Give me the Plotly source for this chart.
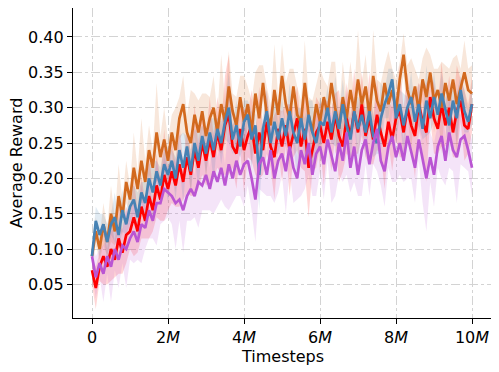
import plotly.graph_objects as go

# x positions in millions of timesteps (one sample every 0.1M)
steps_m = [round(i * 0.1, 1) for i in range(101)]

orange_mean = [0.09, 0.125, 0.10, 0.135, 0.11, 0.15, 0.125, 0.175, 0.145, 0.195, 0.17,
               0.215, 0.185, 0.225, 0.195, 0.24, 0.215, 0.265, 0.23, 0.255, 0.225,
               0.265, 0.24, 0.285, 0.305, 0.265, 0.25, 0.29, 0.265, 0.295, 0.26,
               0.285, 0.30, 0.265, 0.305, 0.28, 0.33, 0.295, 0.275, 0.315, 0.28,
               0.305, 0.265, 0.32, 0.285, 0.335, 0.29, 0.275, 0.325, 0.29, 0.345,
               0.305, 0.285, 0.33, 0.29, 0.28, 0.335, 0.29, 0.265, 0.305, 0.28,
               0.315, 0.29, 0.335, 0.30, 0.27, 0.315, 0.285, 0.325, 0.295, 0.34,
               0.305, 0.33, 0.29, 0.345, 0.31, 0.295, 0.335, 0.305, 0.325, 0.295,
               0.34, 0.375, 0.325, 0.305, 0.33, 0.295, 0.34, 0.315, 0.35, 0.31,
               0.325, 0.30, 0.335, 0.31, 0.34, 0.305, 0.33, 0.35, 0.325, 0.32]

blue_mean = [0.09, 0.14, 0.12, 0.135, 0.11, 0.135, 0.145, 0.12, 0.155, 0.135, 0.16,
             0.17, 0.145, 0.18, 0.165, 0.20, 0.18, 0.21, 0.19, 0.22, 0.205,
             0.225, 0.20, 0.24, 0.215, 0.245, 0.21, 0.25, 0.225, 0.26, 0.235,
             0.265, 0.24, 0.27, 0.25, 0.28, 0.30, 0.255, 0.275, 0.245, 0.28,
             0.29, 0.255, 0.275, 0.205, 0.27, 0.295, 0.25, 0.28, 0.255, 0.285,
             0.26, 0.295, 0.265, 0.25, 0.285, 0.255, 0.29, 0.265, 0.25, 0.28,
             0.275, 0.30, 0.265, 0.295, 0.27, 0.305, 0.275, 0.255, 0.295, 0.27,
             0.29, 0.265, 0.295, 0.26, 0.25, 0.285, 0.305, 0.32, 0.34, 0.285,
             0.305, 0.275, 0.30, 0.315, 0.28, 0.305, 0.27, 0.31, 0.285, 0.315,
             0.29, 0.32, 0.295, 0.275, 0.31, 0.285, 0.325, 0.295, 0.28, 0.305]

red_mean = [0.07, 0.045, 0.075, 0.09, 0.075, 0.10, 0.085, 0.115, 0.095, 0.12, 0.125,
            0.145, 0.125, 0.16, 0.14, 0.175, 0.155, 0.19, 0.17, 0.205, 0.185,
            0.21, 0.19, 0.22, 0.195, 0.23, 0.205, 0.24, 0.215, 0.25, 0.225,
            0.255, 0.23, 0.265, 0.24, 0.275, 0.29, 0.245, 0.235, 0.27, 0.24,
            0.26, 0.275, 0.235, 0.265, 0.24, 0.28, 0.245, 0.23, 0.27, 0.245,
            0.275, 0.24, 0.265, 0.285, 0.245, 0.27, 0.215, 0.24, 0.265, 0.275,
            0.25, 0.28, 0.255, 0.29, 0.26, 0.245, 0.285, 0.26, 0.295, 0.265,
            0.305, 0.26, 0.285, 0.255, 0.29, 0.265, 0.245, 0.28, 0.255, 0.285,
            0.295, 0.265, 0.30, 0.275, 0.26, 0.305, 0.28, 0.265, 0.315, 0.285,
            0.27, 0.305, 0.275, 0.30, 0.265, 0.295, 0.31, 0.275, 0.27, 0.305]

purple_mean = [0.09, 0.06, 0.08, 0.065, 0.09, 0.075, 0.10, 0.085, 0.105, 0.10, 0.115,
               0.125, 0.11, 0.135, 0.13, 0.155, 0.14, 0.165, 0.165, 0.185, 0.18,
               0.175, 0.165, 0.17, 0.155, 0.175, 0.185, 0.175, 0.195, 0.19, 0.205,
               0.185, 0.21, 0.195, 0.215, 0.19, 0.22, 0.20, 0.225, 0.205, 0.22,
               0.225, 0.20, 0.17, 0.22, 0.23, 0.205, 0.24, 0.20, 0.225, 0.235,
               0.21, 0.245, 0.215, 0.20, 0.24, 0.22, 0.25, 0.205, 0.235, 0.245,
               0.22, 0.255, 0.23, 0.21, 0.25, 0.225, 0.265, 0.215, 0.245, 0.205,
               0.24, 0.255, 0.22, 0.25, 0.27, 0.225, 0.21, 0.245, 0.26, 0.23,
               0.25, 0.225, 0.26, 0.235, 0.215, 0.255, 0.23, 0.20, 0.23, 0.205,
               0.245, 0.26, 0.225, 0.265, 0.24, 0.23, 0.255, 0.26, 0.24, 0.215]

orange_sd = [0.01, 0.02, 0.015, 0.03, 0.02, 0.04, 0.02, 0.045, 0.025, 0.03, 0.02,
             0.05, 0.025, 0.06, 0.03, 0.035, 0.025, 0.07, 0.03, 0.045, 0.03,
             0.025, 0.06, 0.03, 0.04, 0.025, 0.075, 0.03, 0.045, 0.025, 0.06,
             0.03, 0.045, 0.025, 0.07, 0.03, 0.05, 0.025, 0.04, 0.03, 0.065,
             0.025, 0.045, 0.03, 0.075, 0.025, 0.04, 0.03, 0.065, 0.025, 0.045,
             0.03, 0.07, 0.025, 0.04, 0.03, 0.06, 0.025, 0.045, 0.03, 0.075,
             0.025, 0.04, 0.03, 0.065, 0.025, 0.05, 0.03, 0.04, 0.025, 0.07,
             0.03, 0.045, 0.025, 0.065, 0.03, 0.04, 0.025, 0.075, 0.03, 0.045,
             0.025, 0.03, 0.035, 0.065, 0.025, 0.045, 0.03, 0.07, 0.025, 0.045,
             0.03, 0.065, 0.025, 0.045, 0.03, 0.07, 0.025, 0.045, 0.03, 0.04]

blue_sd = [0.01, 0.02, 0.03, 0.015, 0.025, 0.015, 0.035, 0.02, 0.03, 0.015, 0.025,
           0.02, 0.035, 0.015, 0.03, 0.02, 0.045, 0.015, 0.025, 0.02, 0.04,
           0.015, 0.03, 0.02, 0.05, 0.015, 0.03, 0.02, 0.04, 0.015, 0.03,
           0.02, 0.045, 0.015, 0.03, 0.025, 0.05, 0.02, 0.035, 0.015, 0.03,
           0.02, 0.04, 0.015, 0.05, 0.02, 0.03, 0.015, 0.045, 0.02, 0.03,
           0.015, 0.04, 0.02, 0.05, 0.015, 0.03, 0.02, 0.045, 0.015, 0.035,
           0.02, 0.03, 0.015, 0.05, 0.02, 0.035, 0.015, 0.03, 0.02, 0.045,
           0.015, 0.035, 0.02, 0.03, 0.015, 0.05, 0.02, 0.035, 0.015, 0.03,
           0.02, 0.045, 0.015, 0.035, 0.02, 0.03, 0.015, 0.05, 0.02, 0.035,
           0.015, 0.03, 0.02, 0.045, 0.015, 0.035, 0.02, 0.03, 0.015, 0.03]

red_sd = [0.02, 0.03, 0.02, 0.04, 0.025, 0.045, 0.025, 0.05, 0.03, 0.04, 0.025,
          0.055, 0.03, 0.045, 0.025, 0.06, 0.03, 0.045, 0.03, 0.065, 0.03,
          0.045, 0.03, 0.06, 0.025, 0.05, 0.03, 0.065, 0.03, 0.045, 0.035,
          0.06, 0.03, 0.05, 0.035, 0.07, 0.085, 0.03, 0.05, 0.03, 0.06,
          0.03, 0.05, 0.03, 0.065, 0.035, 0.045, 0.03, 0.06, 0.03, 0.05,
          0.03, 0.065, 0.035, 0.045, 0.03, 0.06, 0.07, 0.03, 0.05, 0.03,
          0.06, 0.03, 0.045, 0.03, 0.065, 0.035, 0.05, 0.03, 0.06, 0.03,
          0.045, 0.03, 0.065, 0.035, 0.05, 0.03, 0.06, 0.03, 0.045, 0.03,
          0.065, 0.035, 0.05, 0.03, 0.06, 0.03, 0.045, 0.07, 0.03, 0.05,
          0.035, 0.06, 0.03, 0.045, 0.035, 0.065, 0.03, 0.05, 0.035, 0.04]

purple_sd = [0.02, 0.03, 0.02, 0.04, 0.025, 0.05, 0.03, 0.04, 0.025, 0.055, 0.03,
             0.045, 0.025, 0.055, 0.03, 0.04, 0.025, 0.06, 0.03, 0.045, 0.035,
             0.04, 0.065, 0.03, 0.06, 0.035, 0.045, 0.03, 0.065, 0.035, 0.05,
             0.03, 0.06, 0.035, 0.045, 0.03, 0.065, 0.035, 0.05, 0.03, 0.06,
             0.035, 0.045, 0.06, 0.035, 0.05, 0.03, 0.065, 0.035, 0.045, 0.03,
             0.06, 0.035, 0.05, 0.03, 0.065, 0.035, 0.045, 0.03, 0.06, 0.035,
             0.05, 0.03, 0.065, 0.035, 0.045, 0.03, 0.06, 0.035, 0.05, 0.03,
             0.065, 0.035, 0.045, 0.03, 0.06, 0.035, 0.05, 0.03, 0.065, 0.035,
             0.045, 0.03, 0.06, 0.035, 0.05, 0.03, 0.065, 0.075, 0.035, 0.045,
             0.03, 0.06, 0.035, 0.05, 0.03, 0.065, 0.035, 0.045, 0.03, 0.04]

x_tick_vals = [0, 2, 4, 6, 8, 10]
x_tick_text = ["0", "2<i>M</i>", "4<i>M</i>", "6<i>M</i>", "8<i>M</i>", "10<i>M</i>"]
y_tick_vals = [0.05, 0.10, 0.15, 0.20, 0.25, 0.30, 0.35, 0.40]
y_tick_text = ["0.05", "0.10", "0.15", "0.20", "0.25", "0.30", "0.35", "0.40"]
x_label = "Timesteps"
y_label = "Average Reward"

series = [
    ("red", red_mean, red_sd, "rgb(255,0,0)", "rgba(255,0,0,0.16)"),
    ("orange", orange_mean, orange_sd, "rgb(210,105,30)", "rgba(210,105,30,0.16)"),
    ("blue", blue_mean, blue_sd, "rgb(70,130,180)", "rgba(70,130,180,0.16)"),
    ("purple", purple_mean, purple_sd, "rgb(186,85,211)", "rgba(186,85,211,0.16)"),
]
for nm, mean, sd, _, _ in series:
    assert len(mean) == len(steps_m) and len(sd) == len(steps_m), (nm, len(mean), len(sd))

fig = go.Figure()
for name, mean, sd, col, fillcol in series:
    upper = [m + s for m, s in zip(mean, sd)]
    lower = [m - s for m, s in zip(mean, sd)]
    fig.add_trace(go.Scatter(
        x=steps_m + steps_m[::-1], y=upper + lower[::-1],
        fill="toself", fillcolor=fillcol, line=dict(width=0),
        mode="lines", hoverinfo="skip", showlegend=False))
for name, mean, sd, col, fillcol in series:
    fig.add_trace(go.Scatter(
        x=steps_m, y=mean, mode="lines", name=name,
        line=dict(color=col, width=2.7), showlegend=False))

# The page body has an 8px default margin, so the figure is offset by 8px.
OFF = 8
W, H = 499 - OFF, 372 - OFF
L, R, T, B = 73 - OFF, 8, 0, 54
pw, ph = W - L - R, H - T - B

fig.update_layout(
    width=W, height=H,
    margin=dict(l=L, r=R, t=T, b=B, autoexpand=False),
    paper_bgcolor="white", plot_bgcolor="white",
    font=dict(family="DejaVu Sans", size=16, color="black"),
    annotations=[
        dict(text=x_label, xref="paper", yref="paper",
             x=(282 - 73) / pw, y=-(356 - 318) / ph,
             showarrow=False, xanchor="center", yanchor="middle",
             font=dict(size=16)),
        dict(text=y_label, xref="paper", yref="paper",
             x=-(73 - 16) / pw, y=0.5, textangle=-90,
             showarrow=False, xanchor="center", yanchor="middle",
             font=dict(size=16)),
    ],
)
fig.update_xaxes(
    range=[-0.5, 10.5], tickvals=x_tick_vals, ticktext=x_tick_text,
    showgrid=True, gridcolor="#d3d3d3", griddash="dashdot", gridwidth=1,
    showline=True, linecolor="black", linewidth=1.2, mirror=True,
    ticks="outside", ticklen=5, tickcolor="black", zeroline=False,
    automargin=False,
)
fig.update_yaxes(
    range=[0.0025, 0.441], tickvals=y_tick_vals, ticktext=y_tick_text,
    showgrid=True, gridcolor="#d3d3d3", griddash="dashdot", gridwidth=1,
    showline=True, linecolor="black", linewidth=1.2, mirror=True,
    ticks="outside", ticklen=5, tickcolor="black", zeroline=False,
    automargin=False,
)

fig.write_html("out.html")
